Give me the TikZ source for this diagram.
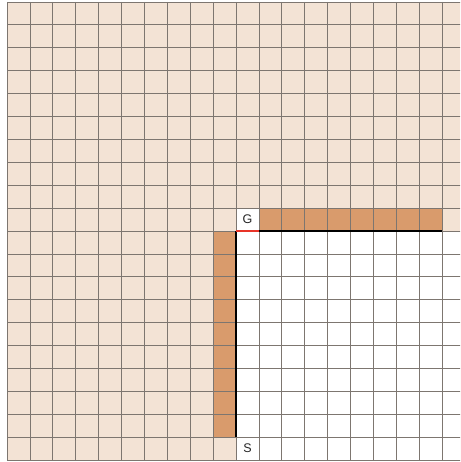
\documentclass[tikz,border=0pt]{standalone}
\usepackage{fontspec}
\setmainfont{Liberation Sans}
\usepackage{xcolor}
\usetikzlibrary{positioning}
\definecolor{seen}{RGB}{243,227,213}
\definecolor{wallc}{RGB}{217,155,108}
\definecolor{edgered}{RGB}{232,52,40}
\definecolor{lined}{RGB}{125,118,112}
\tikzset{
  gridline/.style={draw=lined, line width=0.8pt},
  openarea/.style={fill=seen},
  wall/.style={fill=wallc},
  free/.style={fill=white},
  border/.style={draw=black, line width=2.4pt},
  portal/.style={draw=edgered, line width=2.4pt},
  lbl/.style={font=\fontsize{12.5}{13}\selectfont, inner sep=0pt, text=black!85},
}

\begin{document}
\begin{tikzpicture}[x=22.9pt, y=-22.9pt]
  \useasboundingbox (-0.306,-0.087) rectangle (19.782,20.087);
  \clip (-0.306,-0.087) rectangle (19.782,20.087);
  \fill[openarea] (0,0) rectangle (20,20);
  \fill[free] (10,10) rectangle (20,20);
  \fill[free] (10,9) rectangle (11,10);
  \fill[wall] (11,9) rectangle (19,10);
  \fill[wall] (9,10) rectangle (10,19);
  \foreach \k in {0,...,20} {
    \draw[gridline] (\k,0) -- (\k,20);
    \draw[gridline] (0,\k) -- (20,\k);
  }
  \draw[border] (10,10) -- (10,19);
  \draw[border] (11,10) -- (19,10);
  \draw[portal] (10,10) -- (11,10);
  \node[lbl] (goal) at (10.5,9.5) {G};
  \node[lbl] (start) at (10.5,19.5) {S};
\end{tikzpicture}
\end{document}
